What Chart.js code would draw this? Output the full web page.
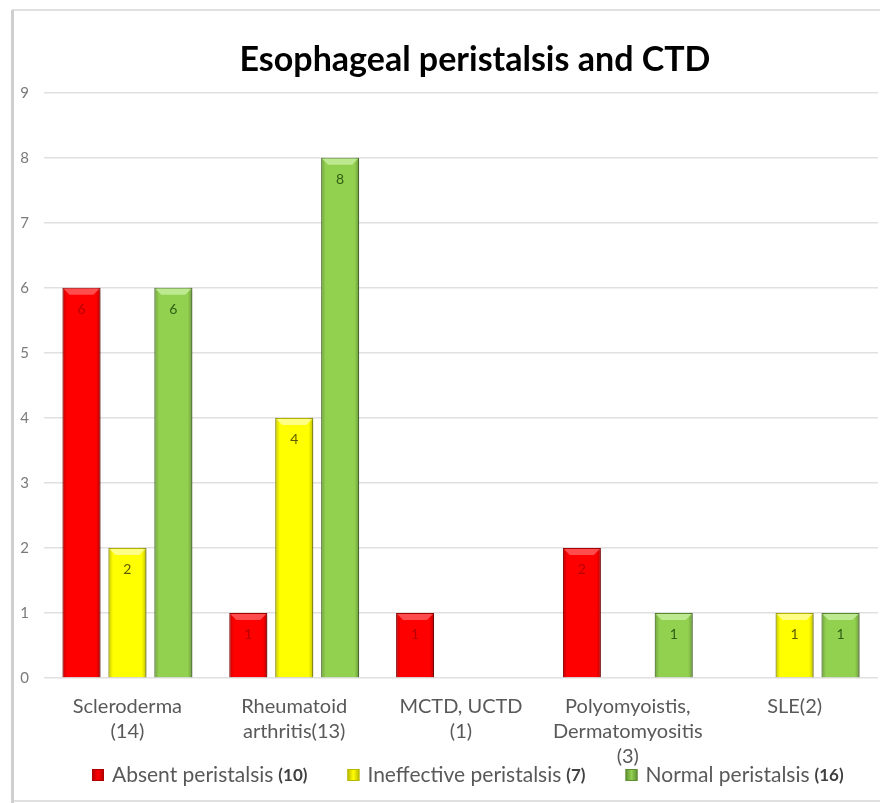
<!DOCTYPE html>
<html>
<head>
<meta charset="utf-8">
<script src="https://cdn.jsdelivr.net/npm/chart.js@4/dist/chart.umd.min.js"></script>
<style>
  html, body { margin: 0; padding: 0; background: #ffffff; }
  #wrap { position: relative; width: 880px; height: 803px; }
</style>
</head>
<body>
<div id="wrap"><canvas id="c" width="880" height="803"></canvas></div>
<script>
// Disease groups (patient count in brackets)
const categories = [
  ['Scleroderma', '(14)'],
  ['Rheumatoid', 'arthritis(13)'],
  ['MCTD, UCTD', '(1)'],
  ['Polyomyoistis,', 'Dermatomyositis', '(3)'],
  ['SLE(2)']
];
const seriesNames  = ['Absent peristalsis', 'Ineffective peristalsis', 'Normal peristalsis'];
const seriesTotals = ['(10)', '(7)', '(16)'];
const absent      = [6, 1, 1, 2, 0];
const ineffective = [2, 4, 0, 0, 1];
const normal      = [6, 8, 0, 1, 1];
const yTicks = [0, 1, 2, 3, 4, 5, 6, 7, 8, 9];

const fills   = ['#ff0000', '#ffff00', '#92d050'];
const borders = ['#b00000', '#b8b800', '#5e8f33'];
const bevels  = ['rgba(255,140,140,0.55)', 'rgba(255,255,190,0.7)', 'rgba(200,240,160,0.8)'];
const labelColors = ['#b80000', '#5c5c00', '#2f5f14'];
const FONT = 'Lato, "Open Sans", "DejaVu Sans", sans-serif';

// White background with a light frame on the left, top and bottom
const framePlugin = {
  id: 'frame',
  beforeDraw(chart) {
    const ctx = chart.ctx;
    ctx.save();
    ctx.fillStyle = '#ffffff';
    ctx.fillRect(0, 0, chart.width, chart.height);
    ctx.strokeStyle = '#e0e0e0';
    ctx.lineWidth = 2;
    ctx.beginPath();
    ctx.moveTo(12, 10); ctx.lineTo(chart.width, 10);
    ctx.moveTo(12, 801); ctx.lineTo(chart.width, 801);
    ctx.stroke();
    ctx.strokeStyle = '#cfcfcf';
    ctx.lineWidth = 3;
    ctx.beginPath();
    ctx.moveTo(12.5, 10); ctx.lineTo(12.5, chart.height);
    ctx.stroke();
    ctx.restore();
  }
};

// The title sits a little right of the canvas centre
const titleShiftPlugin = {
  id: 'titleShift',
  afterLayout(chart) {
    const t = chart.titleBlock;
    if (t) { t.left += 30; t.right += 30; }
  }
};

// Soft shadow behind bars, shading/bevel over them, and value labels
const barStylePlugin = {
  id: 'barStyle',
  beforeDatasetsDraw(chart) {
    const ctx = chart.ctx;
    ctx.save();
    ctx.shadowColor = 'rgba(0,0,0,0.28)';
    ctx.shadowBlur = 3;
    ctx.shadowOffsetX = 1.5;
    ctx.shadowOffsetY = 1;
  },
  afterDatasetsDraw(chart) {
    const ctx = chart.ctx;
    ctx.restore();
    ctx.save();
    chart.data.datasets.forEach((ds, di) => {
      const meta = chart.getDatasetMeta(di);
      meta.data.forEach((el, i) => {
        const v = ds.data[i];
        if (!v) return;
        const left = el.x - el.width / 2;
        const right = el.x + el.width / 2;
        const top = el.y;
        const bottom = el.base;
        const g = ctx.createLinearGradient(left, 0, right, 0);
        g.addColorStop(0, 'rgba(0,0,0,0.22)');
        g.addColorStop(0.12, 'rgba(0,0,0,0.0)');
        g.addColorStop(0.88, 'rgba(0,0,0,0.0)');
        g.addColorStop(1, 'rgba(0,0,0,0.25)');
        ctx.fillStyle = g;
        ctx.fillRect(left, top, right - left, bottom - top);
        const b = 7;
        ctx.fillStyle = bevels[di];
        ctx.beginPath();
        ctx.moveTo(left + 1, top + 1);
        ctx.lineTo(right - 1, top + 1);
        ctx.lineTo(right - b, top + b);
        ctx.lineTo(left + b, top + b);
        ctx.closePath();
        ctx.fill();
        ctx.fillStyle = labelColors[di];
        ctx.font = '14px ' + FONT;
        ctx.textAlign = 'center';
        ctx.textBaseline = 'middle';
        ctx.fillText(String(v), el.x, top + 22);
      });
    });
    ctx.restore();
  }
};

// Legend row under the axis: coloured square, series name, bold total
const legendPlugin = {
  id: 'legendRow',
  afterDraw(chart) {
    const ctx = chart.ctx;
    const nameFont = '21px ' + FONT;
    const totFont = 'bold 17px ' + FONT;
    const box = 12, gapBox = 8, gapTot = 5, gapItem = 40;
    const y = 775;
    let x = 92;
    ctx.save();
    chart.data.datasets.forEach((ds, i) => {
      ctx.font = nameFont;
      const wn = ctx.measureText(seriesNames[i]).width;
      ctx.font = totFont;
      const wt = ctx.measureText(seriesTotals[i]).width;
      const g = ctx.createLinearGradient(x, 0, x + box, 0);
      g.addColorStop(0, borders[i]);
      g.addColorStop(0.5, fills[i]);
      g.addColorStop(1, borders[i]);
      ctx.fillStyle = g;
      ctx.fillRect(x, y - box / 2, box, box);
      ctx.strokeStyle = borders[i];
      ctx.lineWidth = 1;
      ctx.strokeRect(x + 0.5, y - box / 2 + 0.5, box - 1, box - 1);
      ctx.textBaseline = 'middle';
      ctx.textAlign = 'left';
      ctx.fillStyle = '#595959';
      ctx.font = nameFont;
      ctx.fillText(seriesNames[i], x + box + gapBox, y);
      ctx.fillStyle = '#404040';
      ctx.font = totFont;
      ctx.fillText(seriesTotals[i], x + box + gapBox + wn + gapTot, y + 1);
      x += box + gapBox + wn + gapTot + wt + gapItem;
    });
    ctx.restore();
  }
};

const datasets = [absent, ineffective, normal].map((values, i) => ({
  label: seriesNames[i] + ' ' + seriesTotals[i],
  data: values,
  backgroundColor: fills[i],
  borderColor: borders[i],
  borderWidth: 1,
  categoryPercentage: 0.826,
  barPercentage: 0.826
}));

new Chart(document.getElementById('c'), {
  type: 'bar',
  data: { labels: categories, datasets },
  plugins: [framePlugin, titleShiftPlugin, barStylePlugin, legendPlugin],
  options: {
    responsive: false,
    animation: false,
    layout: { padding: { left: 12, right: 2, top: 0, bottom: 33 } },
    plugins: {
      title: {
        display: true,
        text: 'Esophageal peristalsis and CTD',
        color: '#000000',
        font: { family: FONT, size: 34, weight: 'bold' },
        padding: { top: 40, bottom: 12 }
      },
      legend: { display: false },
      tooltip: { enabled: false }
    },
    scales: {
      x: {
        grid: { display: false, drawTicks: false },
        border: { display: false },
        ticks: {
          color: '#595959',
          font: { family: FONT, size: 20, lineHeight: 1.25 },
          padding: 16,
          maxRotation: 0,
          autoSkip: false
        },
        afterFit(scale) { scale.height = 92; }
      },
      y: {
        min: 0,
        max: 9,
        afterBuildTicks(scale) { scale.ticks = yTicks.map(v => ({ value: v })); },
        grid: { color: '#e0e0e0', lineWidth: 1.5, drawTicks: false },
        border: { display: false },
        ticks: {
          color: '#7a7a7a',
          font: { family: FONT, size: 15 },
          padding: 15
        },
        afterFit(scale) { scale.width = 32; }
      }
    }
  }
});
</script>
</body>
</html>
